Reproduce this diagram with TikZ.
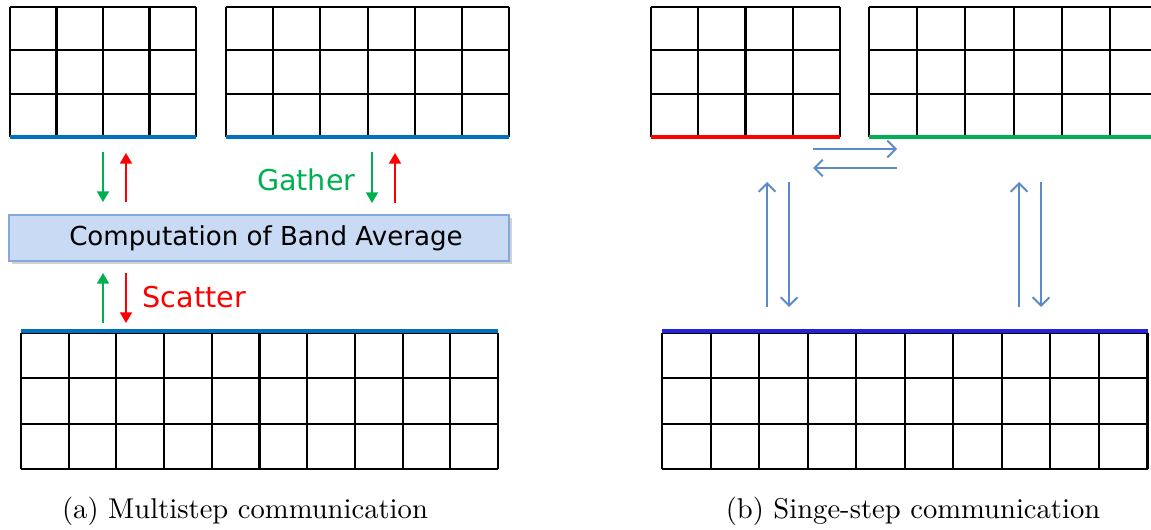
\documentclass[tikz,border=0pt]{standalone}
\usepackage{fontspec}
\newfontfamily\labelfont{DejaVu Sans}
\usetikzlibrary{arrows.meta,shadows}

\definecolor{bandblue}{HTML}{0070C0}
\definecolor{bandgreen}{HTML}{00B050}
\definecolor{bandred}{HTML}{FF0000}
\definecolor{bandviolet}{HTML}{2222E0}
\definecolor{msgblue}{HTML}{5B8AC6}
\definecolor{boxfill}{HTML}{C9DAF5}
\definecolor{boxedge}{HTML}{86A8DC}

% block of cells: left, top, columns, cell width, row height
\newcommand{\cellgrid}[5]{%
  \foreach \i in {0,...,#3}
    \draw[gridline] ({#1+\i*#4},#2) -- ++(0,{3*#5});
  \foreach \j in {0,...,3}
    \draw[gridline] (#1,{#2+\j*#5}) -- ++({#3*#4},0);
}

\begin{document}
\begin{tikzpicture}[x=0.36pt,y=-0.36pt,
    gridline/.style={line width=0.75pt,black},
    band/.style={line width=1.7pt},
    solid tip/.style={line width=0.6pt,-{Triangle[width=4.3pt,length=3.8pt]}},
    open tip/.style={line width=0.7pt,msgblue,-{Straight Barb[width=6pt,length=3pt]}},
    lbl/.style={font=\labelfont\fontsize{10.3}{12}\selectfont,inner sep=0pt}]
  \useasboundingbox (0,0) rectangle (1151,529);
  \clip (0,0) rectangle (1151,529);

  % (a) multistep
  \cellgrid{10}{7}{4}{46.5}{43.3}
  \cellgrid{226}{7}{6}{47.2}{43.3}
  \cellgrid{21}{333}{10}{47.7}{45.3}
  \draw[band,bandblue] (10,137) -- (196,137);
  \draw[band,bandblue] (226,137) -- (509,137);
  \draw[band,bandblue] (21,331) -- (498,331);

  \node[draw=boxedge,line width=0.8pt,fill=boxfill,
        drop shadow={opacity=0.35,shadow xshift=1pt,shadow yshift=-1pt},
        minimum width=180pt,minimum height=16.5pt,inner sep=0pt,
        font=\labelfont\fontsize{9.4}{11}\selectfont]
        (avg) at (259,238) {\hspace{5pt}Computation of Band Average};

  \coordinate (ga1) at (103,152); \coordinate (gb1) at (103,202);
  \coordinate (sa1) at (126,202); \coordinate (sb1) at (126,153);
  \coordinate (ga2) at (372,152); \coordinate (gb2) at (372,203);
  \coordinate (sa2) at (395,203); \coordinate (sb2) at (395,153);
  \coordinate (ga3) at (103,323); \coordinate (gb3) at (103,273);
  \coordinate (sa3) at (126,273); \coordinate (sb3) at (126,323);
  \draw[solid tip,bandgreen] (ga1) -- (gb1);
  \draw[solid tip,bandred] (sa1) -- (sb1);
  \draw[solid tip,bandgreen] (ga2) -- (gb2);
  \draw[solid tip,bandred] (sa2) -- (sb2);
  \draw[solid tip,bandgreen] (ga3) -- (gb3);
  \draw[solid tip,bandred] (sa3) -- (sb3);
  \node[lbl,bandgreen,anchor=base east] (gather) at (356,190) {Gather};
  \node[lbl,bandred,anchor=base west] (scatter) at (142,307) {Scatter};

  \node[anchor=base,font=\fontsize{10.3}{12}\selectfont] (capa) at (245,518) {(a) Multistep communication};

  % (b) single step
  \cellgrid{651}{7}{4}{47.25}{43.3}
  \cellgrid{869}{7}{6}{48.2}{43.3}
  \cellgrid{662}{333}{10}{48.55}{45.3}
  \draw[band,bandred] (651,137) -- (840,137);
  \draw[band,bandgreen] (869,137) -- (1160,137);
  \draw[band,bandviolet] (662,331) -- (1148,331);

  \coordinate (ra) at (813,149); \coordinate (rb) at (897,149);
  \coordinate (la) at (897,168); \coordinate (lb) at (813,168);
  \draw[open tip] (ra) -- (rb);
  \draw[open tip] (la) -- (lb);
  \foreach \x [count=\k] in {767,1019} {
    \coordinate (up\k) at (\x,307); \coordinate (top\k) at (\x,182);
    \coordinate (dn\k) at (\x+22,182); \coordinate (bot\k) at (\x+22,307);
    \draw[open tip] (up\k) -- (top\k);
    \draw[open tip] (dn\k) -- (bot\k);
  }

  \node[anchor=base,font=\fontsize{10.3}{12}\selectfont] (capb) at (913,518) {(b) Singe-step communication};
\end{tikzpicture}
\end{document}
